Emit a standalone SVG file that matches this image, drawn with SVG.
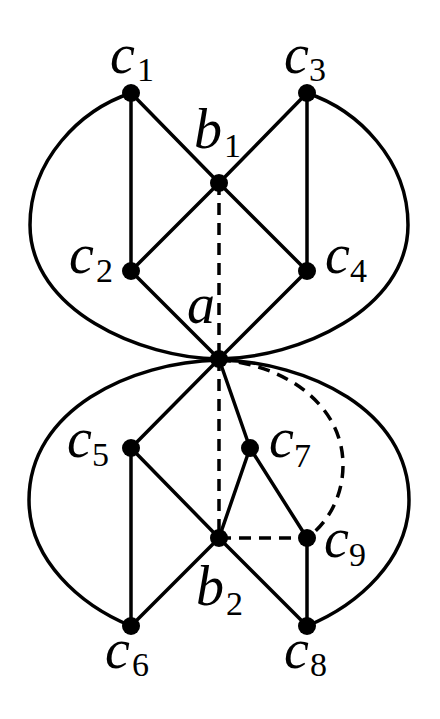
<svg xmlns="http://www.w3.org/2000/svg" width="440" height="719" viewBox="0 0 440 719">
<style>
.e{fill:none;stroke:#000;stroke-width:3.5;stroke-linecap:round}
.d{fill:none;stroke:#000;stroke-width:3.5;stroke-dasharray:12 8}
.n{fill:#000}
.l{font-family:"Liberation Serif","DejaVu Serif",serif;font-style:italic;font-size:56px;fill:#000}
.s{font-style:normal;font-size:34px}
</style>
<rect width="440" height="719" fill="#fff"/>
<g id="connectors">
<path class="e" d="M131,93 C80,110 30,160 30,225 C30,310 140,358 219,359"/>
<path class="e" d="M307,93 C358,110 408,160 408,225 C408,310 298,358 219,359"/>
<path class="e" d="M219,360 C130,362 29,410 29,500 C29,560 80,605 131,626"/>
<path class="e" d="M219,360 C308,362 409,410 409,500 C409,560 358,605 307,626"/>
<path class="e" d="M131,93 L131,271 M131,93 L219,183 M307,93 L219,183 M307,93 L307,271 M219,183 L131,271 M219,183 L307,271 M131,271 L219,359 M307,271 L219,359"/>
<path class="d" d="M219,183 L219,359"/>
<path class="e" d="M219,359 L131,448 M219,359 L250,448 M131,448 L131,626 M131,448 L219,538 M131,626 L219,538 M250,448 L219,538 M250,448 L307,538 M307,538 L307,626 M219,538 L307,626"/>
<path class="d" d="M219,359 L219,538"/>
<path class="d" d="M219,538 L307,538"/>
<path class="d" d="M219,360 C285,364 343,405 343,465 C343,500 325,525 307,538"/>
</g>
<g id="c1"><circle class="n" cx="131" cy="93" r="9"/><text class="l" x="110" y="73">c<tspan class="s" x="137" y="81">1</tspan></text></g>
<g id="c3"><circle class="n" cx="307" cy="93" r="9"/><text class="l" x="284" y="73">c<tspan class="s" x="309" y="81">3</tspan></text></g>
<g id="b1"><circle class="n" cx="219" cy="183" r="9"/><text class="l" x="194" y="148">b<tspan class="s" x="224" y="157">1</tspan></text></g>
<g id="c2"><circle class="n" cx="131" cy="271" r="9"/><text class="l" x="69" y="273">c<tspan class="s" x="96" y="282">2</tspan></text></g>
<g id="c4"><circle class="n" cx="307" cy="271" r="9"/><text class="l" x="325" y="273">c<tspan class="s" x="350" y="282">4</tspan></text></g>
<g id="a"><circle class="n" cx="219" cy="359" r="9"/><text class="l" x="187" y="323">a</text></g>
<g id="c5"><circle class="n" cx="131" cy="448" r="9"/><text class="l" x="67" y="457">c<tspan class="s" x="92" y="466">5</tspan></text></g>
<g id="c7"><circle class="n" cx="250" cy="448" r="9"/><text class="l" x="269" y="457">c<tspan class="s" x="294" y="467">7</tspan></text></g>
<g id="b2"><circle class="n" cx="219" cy="538" r="9"/><text class="l" x="196" y="605">b<tspan class="s" x="226" y="615">2</tspan></text></g>
<g id="c9"><circle class="n" cx="307" cy="538" r="9"/><text class="l" x="324" y="557">c<tspan class="s" x="349" y="566">9</tspan></text></g>
<g id="c6"><circle class="n" cx="131" cy="626" r="9"/><text class="l" x="105" y="668">c<tspan class="s" x="132" y="676">6</tspan></text></g>
<g id="c8"><circle class="n" cx="307" cy="626" r="9"/><text class="l" x="284" y="668">c<tspan class="s" x="310" y="676">8</tspan></text></g>
</svg>
